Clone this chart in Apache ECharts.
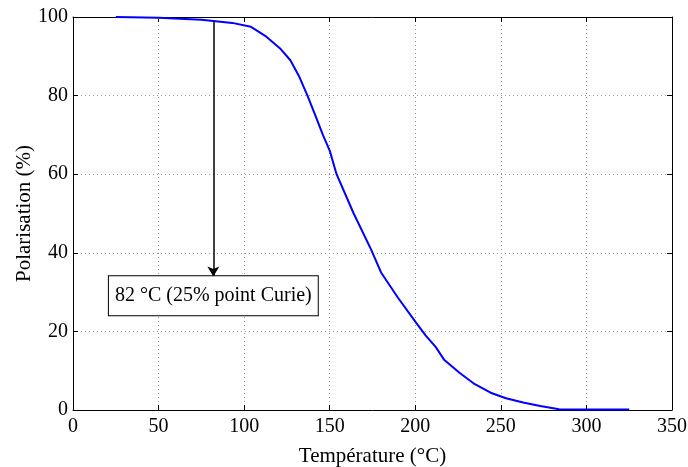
<!DOCTYPE html>
<html><head><meta charset="utf-8">
<script src="https://cdn.jsdelivr.net/npm/echarts@6/dist/echarts.min.js"></script>
<style>html,body{margin:0;padding:0;background:#fff}#c{width:688px;height:467px}</style>
</head><body><div id="c"></div>
<script>
var temps = [25,50,75,82,93,104,113,121,127,132,137,142,146,150,154,164,174,180,190,200,206,212,217,226,234,244,253,263,273,284,300,325];
var polar = [100,99.8,99.3,99,98.5,97.5,95,92,89,85,80,74.5,70,66,60,50,41,35,28.5,22.5,19,16,12.7,9.4,6.8,4.4,3,1.9,1,0.2,0.1,0.1];
var xTicks = [0,50,100,150,200,250,300,350];
var yTicks = [0,20,40,60,80,100];
var annotTemp = 82;
var arrowFrom = 99, arrowTo = 34;
var boxCenter = 29.1;
var annotText = '82 °C (25% point Curie)';
var xName = 'Température (°C)', yName = 'Polarisation (%)';

var font = 'Liberation Serif';
var chart = echarts.init(document.getElementById('c'));
var data = temps.map(function(t,i){return [t, polar[i]];});
var axBase = {
  axisLine:{show:true,onZero:false,lineStyle:{color:'#000',width:1}},
  axisTick:{show:true,inside:true,length:5,lineStyle:{color:'#000'}},
  splitLine:{show:false}
};
chart.setOption({
  animation:false,
  grid:{left:73,right:16,top:17,bottom:57,outerBoundsMode:'none',containLabel:false},
  xAxis:[
    Object.assign({}, axBase, {type:'value',min:0,max:350,interval:50,position:'bottom',
      name:xName,nameLocation:'middle',nameGap:36,nameMoveOverlap:false,
      nameTextStyle:{fontFamily:font,fontSize:21,color:'#000'},
      axisLabel:{fontFamily:font,fontSize:20,color:'#000',margin:7},
      splitLine:{show:true,lineStyle:{color:'#999',type:[1,3],width:1}}}),
    Object.assign({}, axBase, {type:'value',min:0,max:350,interval:50,position:'top',axisLabel:{show:false}})
  ],
  yAxis:[
    Object.assign({}, axBase, {type:'value',min:0,max:100,interval:20,position:'left',
      name:yName,nameLocation:'middle',nameGap:38,nameMoveOverlap:false,
      nameTextStyle:{fontFamily:font,fontSize:21,color:'#000'},
      axisLabel:{fontFamily:font,fontSize:20,color:'#000',margin:5},
      splitLine:{show:true,lineStyle:{color:'#999',type:[1,3],width:1}}}),
    Object.assign({}, axBase, {type:'value',min:0,max:100,interval:20,position:'right',axisLabel:{show:false}})
  ],
  series:[{
    type:'line',data:data,showSymbol:false,symbol:'none',
    lineStyle:{color:'#0000ff',width:2},
    markLine:{silent:true,symbol:['none','arrow'],symbolSize:[9,10],
      lineStyle:{color:'#000',width:1.5,type:'solid'},label:{show:false},
      data:[[{coord:[annotTemp,arrowFrom]},{coord:[annotTemp,arrowTo]}]]},
    markPoint:{silent:true,symbol:'rect',symbolSize:1,itemStyle:{color:'rgba(0,0,0,0)'},
      data:[{coord:[annotTemp,boxCenter]}],
      label:{show:true,position:'inside',formatter:annotText,fontFamily:font,fontSize:20,color:'#000',
        backgroundColor:'#fff',borderColor:'#000',borderWidth:1,padding:[10,6,9,6]}}
  }]
});
</script></body></html>
